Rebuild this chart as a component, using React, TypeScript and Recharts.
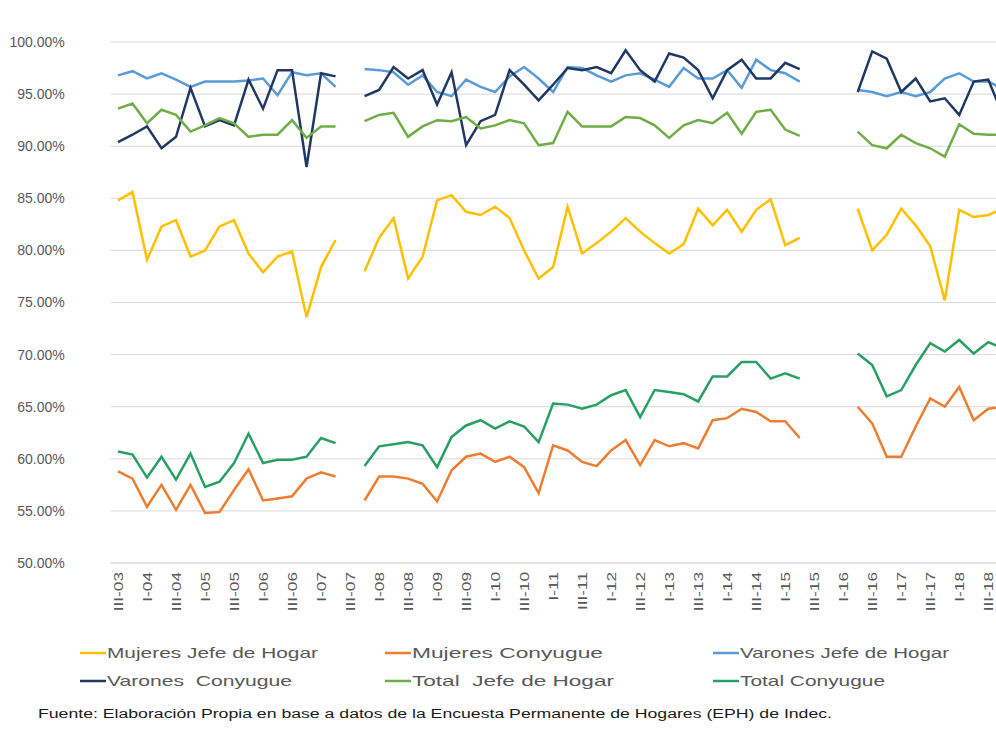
import { LineChart, Line, XAxis, YAxis, CartesianGrid, Legend } from 'recharts';

const quarters = [
  'III-03', 'IV-03', 'I-04', 'II-04', 'III-04', 'IV-04', 'I-05', 'II-05', 'III-05', 'IV-05',
  'I-06', 'II-06', 'III-06', 'IV-06', 'I-07', 'II-07', 'III-07', 'IV-07', 'I-08', 'II-08',
  'III-08', 'IV-08', 'I-09', 'II-09', 'III-09', 'IV-09', 'I-10', 'II-10', 'III-10', 'IV-10',
  'I-11', 'II-11', 'III-11', 'IV-11', 'I-12', 'II-12', 'III-12', 'IV-12', 'I-13', 'II-13',
  'III-13', 'IV-13', 'I-14', 'II-14', 'III-14', 'IV-14', 'I-15', 'II-15', 'III-15', 'IV-15',
  'I-16', 'II-16', 'III-16', 'IV-16', 'I-17', 'II-17', 'III-17', 'IV-17', 'I-18', 'II-18',
  'III-18', 'IV-18',
];

// valores en %, null = trimestre sin datos (III-07, III-15 a I-16)
const mujeresJefe = [
  84.8, 85.6, 79.1, 82.3, 82.9, 79.4, 80.0, 82.3, 82.9, 79.7,
  77.9, 79.4, 79.9, 73.6, 78.4, 81.0, null, 78.0, 81.2, 83.1,
  77.3, 79.4, 84.8, 85.3, 83.7, 83.4, 84.2, 83.1, 80.0, 77.3,
  78.4, 84.2, 79.7, 80.7, 81.8, 83.1, 81.8, 80.7, 79.7, 80.6,
  84.0, 82.4, 83.9, 81.8, 83.9, 84.9, 80.5, 81.2, null, null,
  null, 84.0, 80.0, 81.5, 84.0, 82.4, 80.4, 75.2, 83.9, 83.2,
  83.4, 84.0,
];
const mujeresConyugue = [
  58.8, 58.1, 55.4, 57.5, 55.1, 57.5, 54.8, 54.9, 57.0, 59.0,
  56.0, 56.2, 56.4, 58.1, 58.7, 58.3, null, 56.0, 58.3, 58.3,
  58.1, 57.6, 55.9, 58.9, 60.2, 60.5, 59.7, 60.2, 59.2, 56.7,
  61.3, 60.8, 59.7, 59.3, 60.8, 61.8, 59.4, 61.8, 61.2, 61.5,
  61.0, 63.7, 63.9, 64.8, 64.5, 63.6, 63.6, 62.0, null, null,
  null, 65.0, 63.4, 60.2, 60.2, 63.1, 65.8, 65.0, 66.9, 63.7,
  64.8, 65.0,
];
const varonesJefe = [
  96.8, 97.2, 96.5, 97.0, 96.4, 95.7, 96.2, 96.2, 96.2, 96.3,
  96.5, 94.9, 97.1, 96.8, 97.0, 95.7, null, 97.4, 97.3, 97.1,
  95.9, 96.8, 95.2, 94.8, 96.4, 95.7, 95.2, 96.7, 97.6, 96.5,
  95.2, 97.6, 97.5, 96.8, 96.2, 96.8, 97.0, 96.4, 95.7, 97.5,
  96.5, 96.5, 97.3, 95.6, 98.3, 97.3, 97.0, 96.2, null, null,
  null, 95.4, 95.2, 94.8, 95.2, 94.8, 95.2, 96.5, 97.0, 96.2,
  96.2, 95.5,
];
const varonesConyugue = [
  90.4, 91.1, 91.9, 89.8, 90.9, 95.6, 91.9, 92.5, 92.0, 96.4,
  93.6, 97.3, 97.3, 88.0, 97.0, 96.7, null, 94.8, 95.4, 97.6,
  96.5, 97.3, 94.0, 97.1, 90.1, 92.4, 93.0, 97.3, 95.9, 94.4,
  95.9, 97.5, 97.3, 97.6, 97.0, 99.2, 97.3, 96.2, 98.9, 98.5,
  97.3, 94.6, 97.3, 98.3, 96.5, 96.5, 98.0, 97.4, null, null,
  null, 95.2, 99.1, 98.4, 95.2, 96.5, 94.3, 94.6, 93.0, 96.2,
  96.4, 93.0,
];
const totalJefe = [
  93.6, 94.1, 92.2, 93.5, 93.0, 91.4, 92.0, 92.7, 92.2, 90.9,
  91.1, 91.1, 92.5, 90.8, 91.9, 91.9, null, 92.4, 93.0, 93.2,
  90.9, 91.9, 92.5, 92.4, 92.8, 91.7, 92.0, 92.5, 92.2, 90.1,
  90.3, 93.3, 91.9, 91.9, 91.9, 92.8, 92.7, 92.0, 90.8, 92.0,
  92.5, 92.2, 93.2, 91.2, 93.3, 93.5, 91.6, 91.0, null, null,
  null, 91.4, 90.1, 89.8, 91.1, 90.3, 89.8, 89.0, 92.1, 91.2,
  91.1, 91.1,
];
const totalConyugue = [
  60.7, 60.4, 58.2, 60.2, 58.0, 60.5, 57.3, 57.8, 59.6, 62.4,
  59.6, 59.9, 59.9, 60.2, 62.0, 61.5, null, 59.3, 61.2, 61.4,
  61.6, 61.3, 59.2, 62.1, 63.2, 63.7, 62.9, 63.6, 63.1, 61.6,
  65.3, 65.2, 64.8, 65.2, 66.1, 66.6, 64.0, 66.6, 66.4, 66.2,
  65.5, 67.9, 67.9, 69.3, 69.3, 67.7, 68.2, 67.7, null, null,
  null, 70.1, 69.0, 66.0, 66.6, 69.0, 71.1, 70.3, 71.4, 70.1,
  71.2, 70.6,
];

const yTicks = [50, 55, 60, 65, 70, 75, 80, 85, 90, 95, 100];

const series = [
  { key: 'mujeresJefe', name: 'Mujeres Jefe de Hogar', color: '#FFC000', values: mujeresJefe },
  { key: 'mujeresConyugue', name: 'Mujeres Conyugue', color: '#ED7D31', values: mujeresConyugue },
  { key: 'varonesJefe', name: 'Varones Jefe de Hogar', color: '#5B9BD5', values: varonesJefe },
  { key: 'varonesConyugue', name: 'Varones  Conyugue', color: '#203864', values: varonesConyugue },
  { key: 'totalJefe', name: 'Total  Jefe de Hogar', color: '#70AD47', values: totalJefe },
  { key: 'totalConyugue', name: 'Total Conyugue', color: '#28A064', values: totalConyugue },
];

const data = quarters.map((q, i) => {
  const row: Record<string, string | number | null> = { q };
  series.forEach((s) => {
    row[s.key] = s.values[i];
  });
  return row;
});

const FONT = '"Liberation Sans", Arial, sans-serif';
const GRAY = '#595959';

// posiciones de la leyenda (x inicio de la raya, y centro, largo del texto)
const legendSlots = [
  { x: 80, y: 653, len: 211 },
  { x: 385, y: 653, len: 191 },
  { x: 713, y: 653, len: 209 },
  { x: 80, y: 681, len: 185 },
  { x: 385, y: 681, len: 202 },
  { x: 713, y: 681, len: 145 },
];

function QuarterTick({ x, y, payload }: any) {
  return (
    <text
      transform={`translate(${x},${y}) rotate(-90) scale(1.28,1)`}
      textAnchor="end"
      dy="0.35em"
      fontSize={13.5}
      fill={GRAY}
      fontFamily={FONT}
    >
      {payload.value}
    </text>
  );
}

function renderLegend() {
  return (
    <svg width={996} height={70} style={{ display: 'block' }}>
      {series.map((s, i) => {
        const slot = legendSlots[i];
        const cy = slot.y - 630;
        return (
          <g key={s.key}>
            <line x1={slot.x} x2={slot.x + 26} y1={cy} y2={cy} stroke={s.color} strokeWidth={2.5} />
            <text
              x={slot.x + 27}
              y={cy}
              dy="0.35em"
              fontSize={15}
              fill={GRAY}
              fontFamily={FONT}
              textLength={slot.len}
              lengthAdjust="spacingAndGlyphs"
              style={{ whiteSpace: 'pre' }}
            >
              {s.name}
            </text>
          </g>
        );
      })}
    </svg>
  );
}

export default function App() {
  return (
    <div
      style={{
        position: 'absolute',
        left: 0,
        top: 0,
        width: 996,
        height: 729,
        overflow: 'hidden',
        background: '#fff',
      }}
    >
      <LineChart
        width={1010}
        height={729}
        data={data}
        margin={{ top: 42, right: 0, bottom: 116, left: 0 }}
      >
        <CartesianGrid vertical={false} stroke="#D9D9D9" />
        <XAxis
          dataKey="q"
          interval={1}
          padding={{ left: 7.25, right: 7.25 }}
          height={50}
          tickLine={false}
          tickSize={0}
          tickMargin={9}
          axisLine={{ stroke: '#D9D9D9' }}
          tick={QuarterTick}
        />
        <YAxis
          domain={[50, 100]}
          ticks={yTicks}
          width={110.75}
          axisLine={false}
          tickLine={false}
          tickSize={0}
          tickMargin={46}
          tickFormatter={(v: number) => `${v.toFixed(2)}%`}
          tick={{ fontSize: 14, fill: GRAY, fontFamily: FONT }}
        />
        <Legend
          verticalAlign="middle"
          align="center"
          layout="horizontal"
          content={renderLegend}
          wrapperStyle={{ top: 630, left: 0, width: 996, height: 70 }}
        />
        {series.map((s) => (
          <Line
            key={s.key}
            type="linear"
            dataKey={s.key}
            name={s.name}
            stroke={s.color}
            strokeWidth={2.5}
            dot={false}
            activeDot={false}
            isAnimationActive={false}
          />
        ))}
      </LineChart>
      <svg
        width={996}
        height={30}
        style={{ position: 'absolute', left: 0, top: 700 }}
      >
        <text
          x={38}
          y={14}
          dy="0.35em"
          fontSize={12}
          fill="#1a1a1a"
          fontFamily={FONT}
          textLength={794}
          lengthAdjust="spacingAndGlyphs"
        >
          Fuente: Elaboración Propia en base a datos de la Encuesta Permanente de Hogares (EPH) de Indec.
        </text>
      </svg>
    </div>
  );
}
